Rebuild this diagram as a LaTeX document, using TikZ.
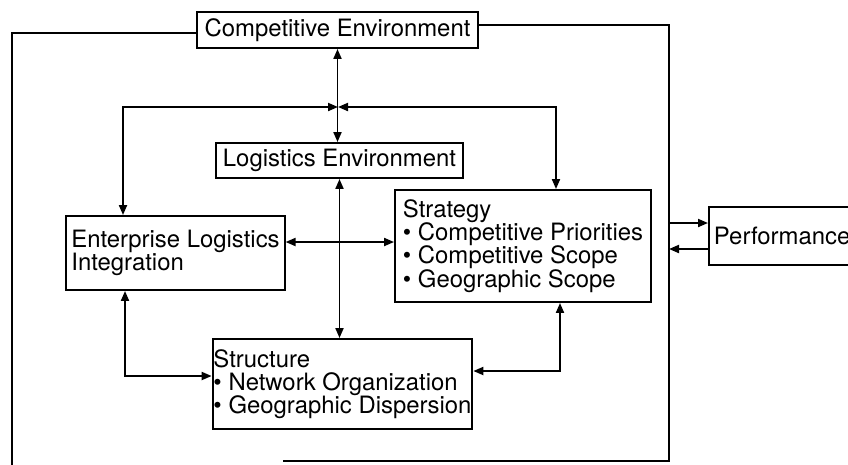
\documentclass[tikz,border=0pt]{standalone}
\usepackage{fontspec}
\setmainfont{TeX Gyre Heros}
\usetikzlibrary{arrows.meta}
\tikzset{box/.style = {draw, rectangle, line width = 1.1pt, inner sep = 0.1cm,
    font = \fontsize{13.6}{13.2}\selectfont},
  listbox/.style = {box, align = left},
  wire/.style = {line width = 1.1pt},
  link/.style = {wire, {Triangle[length=2mm, width=1.6mm]}-{Triangle[length=2mm, width=1.6mm]}},
  feed/.style = {wire, -{Triangle[length=2mm, width=1.6mm]}}}

\begin{document}
\begin{tikzpicture}[x=0.02cm, y=-0.02cm]
  \useasboundingbox (0, 0) rectangle (848, 464);
  \clip (0, 0) rectangle (848, 464);

  \node [box, minimum width=5.62cm, minimum height=0.72cm] (compenv) at (337.5, 30) {Competitive Environment};
  \node [box, minimum width=4.94cm, minimum height=0.70cm] (logenv) at (339.5, 160.5) {Logistics Environment};
  \node [listbox, minimum width=5.12cm, minimum height=2.24cm] (strategy) at (523, 246)
    {Strategy\\ \textbullet{} Competitive Priorities\\ \textbullet{} Competitive Scope\\ \textbullet{} Geographic Scope};
  \node [listbox, minimum width=4.34cm, minimum height=1.48cm] (integration) at (175.5, 253)
    {Enterprise Logistics\\ Integration};
  \node [listbox, inner xsep=0.5pt, minimum width=5.10cm, minimum height=1.80cm] (structure) at (342.5, 384)
    {Structure\\ \textbullet{} Network Organization\\ \textbullet{} Geographic Dispersion};
  \node [listbox, text width=3cm, minimum height=1.16cm, anchor=west] (performance) at (708, 236) {Performance};

  % outer loop round the firm
  \coordinate (frameL) at (12, 470);
  \coordinate (frameR) at (669, 461);
  \coordinate (frameB) at (283, 461);
  \draw [wire] ([yshift=-0.06cm]compenv.west) -| (frameL);
  \draw [wire] ([yshift=0.1cm]compenv.east) -| (frameR) -- (frameB);

  % the two links to performance
  \coordinate (perfIn) at ([yshift=0.26cm]performance.west);
  \coordinate (perfOut) at ([yshift=-0.26cm]performance.west);
  \draw [feed] (perfIn -| frameR) -- (perfIn);
  \draw [feed] (perfOut) -- (perfOut -| frameR);

  % links inside the firm
  \coordinate (hub) at (338, 107);
  \draw [link] (compenv.south) -- (compenv.south |- logenv.north);
  \draw [link] (hub) -| ([xshift=-1.05cm]integration.north);
  \draw [link] (hub) -| ([xshift=0.66cm]strategy.north);
  \draw [link] (logenv.south) -- (logenv.south |- structure.north);
  \draw [link] ([yshift=0.22cm]integration.east) -- ([yshift=0.22cm]integration.east -| strategy.west);
  \draw [link] ([xshift=-1.01cm]integration.south) |- ([yshift=0.16cm]structure.west);
  \draw [link] ([yshift=0.26cm]structure.east) -| ([xshift=0.74cm]strategy.south);
\end{tikzpicture}
\end{document}
